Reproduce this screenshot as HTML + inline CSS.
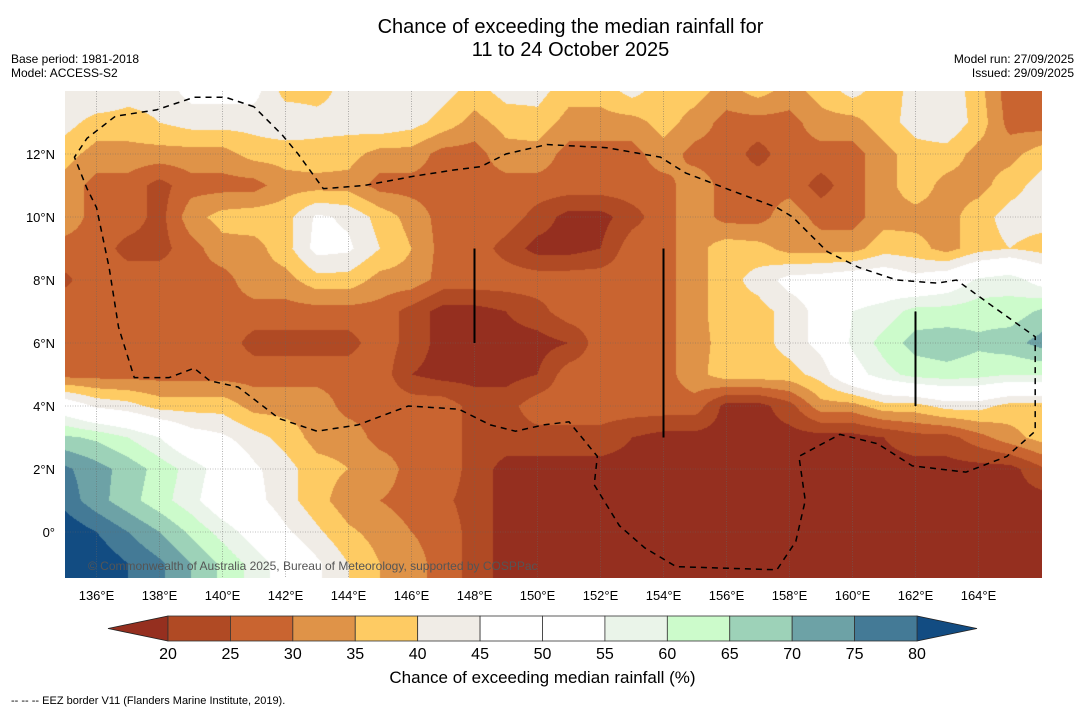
<!DOCTYPE html>
<html><head><meta charset="utf-8">
<style>
body{margin:0;background:#fff;font-family:"Liberation Sans","DejaVu Sans",sans-serif;}
#wrap{position:relative;width:1085px;height:713px;overflow:hidden;background:#fff;}
.t{position:absolute;white-space:nowrap;color:#000;}
</style></head><body>
<div id="wrap">
<div class="t" style="left:0;width:1141px;text-align:center;top:16px;font-size:20px;line-height:23px;">Chance of exceeding the median rainfall for<br>11 to 24 October 2025</div>
<div class="t" style="left:11px;top:52px;font-size:12px;line-height:14px;">Base period: 1981-2018<br>Model: ACCESS-S2</div>
<div class="t" style="right:11px;top:52px;font-size:12px;line-height:14px;text-align:right;">Model run: 27/09/2025<br>Issued: 29/09/2025</div>
<canvas id="map" width="977" height="487" style="position:absolute;left:65px;top:91px;"></canvas>
<svg id="ov" width="1085" height="713" style="position:absolute;left:0;top:0;"></svg>
<div class="t" style="left:88px;top:559px;font-size:12px;color:#555;">© Commonwealth of Australia 2025, Bureau of Meteorology, supported by COSPPac</div>
<div class="t" style="left:0;width:1085px;text-align:center;top:668px;font-size:17px;">Chance of exceeding median rainfall (%)</div>
<div class="t" style="left:11px;top:695px;font-size:11px;">--  --  -- EEZ border V11 (Flanders Marine Institute, 2019).</div>
</div>
<script>
const lons=[135,136,137,138,139,140,141,142,143,144,145,146,147,148,149,150,151,152,153,154,155,156,157,158,159,160,161,162,163,164,165,166];
const lats=[14,13,12,11,10,9,8,7,6,5,4,3,2,1,0,-1,-2];
const row14=[45,45,42,42,47,47,47,38,38,42,45,45,42,38,42,42,37,37,42,37,37,33,37,33,37,42,37,42,44,37,27,27];
const row13=[42,38,38,40,42,42,42,44,42,42,44,42,38,33,37,38,33,33,33,37,33,28,28,28,33,33,38,42,44,38,28,27];
const row12=[37,33,33,33,33,33,37,37,38,37,33,33,28,28,33,33,28,28,28,33,28,28,23,28,28,28,33,38,38,33,33,38];
const row11=[33,28,28,23,28,28,28,33,33,33,28,28,28,28,28,28,28,28,28,28,33,28,28,28,23,28,33,38,33,33,38,42];
const row10=[33,28,28,23,33,37,38,38,46,44,38,33,28,28,28,23,18,18,23,28,33,28,28,33,28,28,33,33,33,38,42,42];
const row9=[28,28,23,23,28,33,33,38,47,46,40,35,28,28,23,18,18,20,28,28,33,38,37,33,33,33,38,37,33,38,40,38];
const row8=[24,28,28,28,28,28,33,33,38,38,33,33,28,28,28,28,28,28,28,28,33,38,42,47,48,50,50,47,50,56,58,52];
const row7=[28,28,28,28,28,28,28,28,28,28,28,23,18,18,20,23,28,28,28,28,33,38,38,42,47,55,57,62,62,63,62,66];
const row6=[28,28,28,28,28,28,23,23,23,23,28,23,18,18,18,18,20,28,28,28,33,37,38,42,47,56,62,67,68,66,68,72];
const row5=[28,28,28,28,28,28,28,28,28,28,28,20,18,18,18,20,28,28,28,28,33,38,38,38,42,52,58,62,63,62,60,60];
const row4=[50,44,42,38,38,38,33,33,33,28,28,28,28,23,23,28,28,28,28,28,28,18,18,23,33,33,38,38,42,42,38,38];
const row3=[66,64,60,55,48,46,42,38,33,33,28,28,28,23,23,23,23,23,20,18,18,18,18,18,18,18,20,23,23,28,33,37];
const row2=[76,72,68,63,58,52,46,42,37,35,33,28,28,23,18,18,18,18,18,18,18,18,18,18,18,18,18,18,18,18,18,24];
const row1=[78,72,67,62,57,50,47,42,37,32,30,28,26,23,18,18,18,18,18,18,18,18,18,18,18,18,18,18,18,18,18,18];
const row0=[84,80,75,70,64,58,52,46,41,36,33,30,28,23,18,18,18,18,18,18,18,18,18,18,18,18,18,18,18,18,18,18];
const rowM1=[85,84,80,76,70,64,58,52,46,40,35,32,28,23,18,18,18,18,18,18,18,18,18,18,18,18,18,18,18,18,18,18];
const rowM2=[85,84,80,76,70,64,58,52,46,40,35,32,28,23,18,18,18,18,18,18,18,18,18,18,18,18,18,18,18,18,18,18];
const grid=[row14,row13,row12,row11,row10,row9,row8,row7,row6,row5,row4,row3,row2,row1,row0,rowM1,rowM2];
const levels=[20,25,30,35,40,45,50,55,60,65,70,75,80];
const colors=["#952F1F","#B04A24","#C96430","#DF9348","#FECB63","#F0ECE6","#FFFFFF","#FFFFFF","#EAF4E9","#CCFBCB","#9DD2B8","#6DA2A6","#447A96","#124C82"];
const lonTicks=[136,138,140,142,144,146,148,150,152,154,156,158,160,162,164];
const latTicks=[12,10,8,6,4,2,0];
const eezLonLat=[[141.0,13.5],[140.1,13.8],[139.1,13.8],[137.9,13.4],[136.6,13.2],[135.7,12.5],[135.3,11.9],[135.7,10.9],[136.0,10.3],[136.4,8.4],[136.7,6.5],[137.2,4.9],[138.3,4.9],[139.1,5.2],[139.6,4.8],[140.5,4.6],[141.8,3.6],[143.0,3.2],[144.3,3.4],[145.9,4.0],[147.5,3.9],[148.5,3.4],[149.3,3.2],[150.2,3.4],[151.0,3.5],[151.9,2.4],[151.8,1.5],[152.6,0.2],[153.4,-0.5],[154.4,-1.1],[157.6,-1.2],[158.2,-0.3],[158.5,1.0],[158.3,2.4],[159.6,3.1],[160.8,2.8],[161.9,2.1],[163.6,1.9],[164.9,2.4],[165.8,3.2],[165.8,6.2],[164.4,7.2],[163.3,8.0],[162.7,7.9],[161.4,8.0],[160.2,8.4],[159.2,8.9],[158.1,10.0],[157.6,10.3],[156.0,10.9],[154.7,11.4],[153.9,11.9],[152.2,12.2],[150.3,12.3],[149.0,12.0],[148.2,11.6],[147.4,11.5],[146.1,11.3],[144.5,11.0],[143.2,10.9],[142.4,12.0],[141.9,12.6],[141.0,13.5]];
const boundaryLines=[[148,9,148,6],[154,9,154,3],[162,7,162,4]];

const X0=65,Y0=91,W=977,H=487;
const xOf=lon=>X0+(lon-135)*31.5;
const yOf=lat=>Y0+(14-lat)*31.5;
function colorIdx(v){let i=0;while(i<levels.length&&v>=levels[i])i++;return i;}
function hex(c){return [parseInt(c.slice(1,3),16),parseInt(c.slice(3,5),16),parseInt(c.slice(5,7),16)];}
const rgb=colors.map(hex);
const cv=document.getElementById('map');const ctx=cv.getContext('2d');
const img=ctx.createImageData(W,H);
for(let py=0;py<H;py++){
  const lat=14-(py+0.5)/31.5;
  let fr=(lats[0]-lat);let r0=Math.floor(fr);if(r0>=lats.length-1)r0=lats.length-2;if(r0<0)r0=0;const tr=fr-r0;
  for(let px=0;px<W;px++){
    const lon=135+(px+0.5)/31.5;
    let fc=lon-lons[0];let c0=Math.floor(fc);if(c0>=lons.length-1)c0=lons.length-2;if(c0<0)c0=0;const tc=fc-c0;
    const v=(1-tr)*((1-tc)*grid[r0][c0]+tc*grid[r0][c0+1])+tr*((1-tc)*grid[r0+1][c0]+tc*grid[r0+1][c0+1]);
    const c=rgb[colorIdx(v)];const k=(py*W+px)*4;
    img.data[k]=c[0];img.data[k+1]=c[1];img.data[k+2]=c[2];img.data[k+3]=255;
  }
}
ctx.putImageData(img,0,0);

const NS='http://www.w3.org/2000/svg';
const ov=document.getElementById('ov');
function mk(tag,attrs,txt){const e=document.createElementNS(NS,tag);for(const k in attrs)e.setAttribute(k,attrs[k]);if(txt!==undefined)e.textContent=txt;ov.appendChild(e);return e;}
lonTicks.forEach(l=>{
  const g=mk('line',{x1:xOf(l),x2:xOf(l),y1:Y0,y2:Y0+H,stroke:'#666','stroke-width':0.6,'stroke-dasharray':'1,1.5',opacity:0.8});
  
  
  const t=mk('text',{x:xOf(l),y:600,'font-size':13,'text-anchor':'middle','font-family':'Liberation Sans, sans-serif'},l+'°E');
  
  
});
latTicks.forEach(l=>{
  const g=mk('line',{x1:X0,x2:X0+W,y1:yOf(l),y2:yOf(l),stroke:'#666','stroke-width':0.6,'stroke-dasharray':'1,1.5',opacity:0.8});
  
  
  const t=mk('text',{x:55,y:yOf(l)+5,'font-size':13,'text-anchor':'end','font-family':'Liberation Sans, sans-serif'},l===0?'0°':l+'°N');
  
  
});
const p=mk('polyline',{points:eezLonLat.map(q=>xOf(q[0])+','+yOf(q[1])).join(' '),fill:'none',stroke:'#000','stroke-width':1.5,'stroke-dasharray':'6,5'});


boundaryLines.forEach(b=>{
  const l=mk('line',{x1:xOf(b[0]),y1:yOf(b[1]),x2:xOf(b[2]),y2:yOf(b[3]),stroke:'#000','stroke-width':2});
  
  
});
const cbX0=168,cbX1=917,cbY=616,cbH=25,seg=(cbX1-cbX0)/12;
const lt=mk('polygon',{points:`${cbX0},${cbY} ${cbX0},${cbY+cbH} 108,${cbY+cbH/2}`,fill:colors[0],stroke:'#222','stroke-width':0.8});


const rt=mk('polygon',{points:`${cbX1},${cbY} ${cbX1},${cbY+cbH} 977,${cbY+cbH/2}`,fill:colors[13],stroke:'#222','stroke-width':0.8});


for(let i=0;i<12;i++){
  const r=mk('rect',{x:cbX0+i*seg,y:cbY,width:seg,height:cbH,fill:colors[i+1],stroke:'#333','stroke-width':0.8});
  
  
}
levels.forEach((v,i)=>{
  const t=mk('text',{x:cbX0+i*seg,y:659,'font-size':16,'text-anchor':'middle','font-family':'Liberation Sans, sans-serif'},v);
  
  
});
</script>
</body></html>
